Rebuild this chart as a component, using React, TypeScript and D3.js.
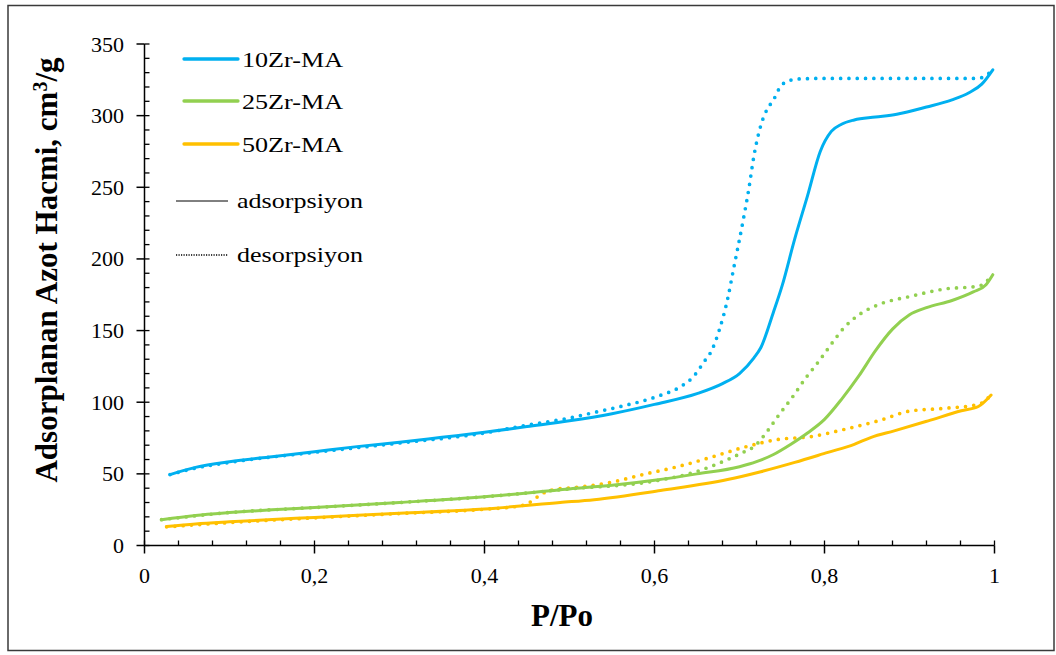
import React from "react";
import * as d3 from "d3";

// ---- data ----
const p10Ads = [0.03,0.06,0.1,0.15,0.2,0.25,0.3,0.35,0.4,0.45,0.5,0.55,0.6,0.65,0.68,0.7,0.717,0.725,0.74,0.75,0.765,0.78,0.795,0.808,0.82,0.835,0.86,0.885,0.92,0.95,0.97,0.985,0.998];
const v10Ads = [49.5,54.5,58.5,62,65.5,69,72,75.5,79,83,87,92,98.5,106,113,120,131,138,163,181,214,244,275,289,294,297,299,301,306,311,316,322,332];

const p10Des = [0.03,0.06,0.1,0.2,0.3,0.4,0.45,0.5,0.53,0.56,0.603,0.631,0.646,0.658,0.668,0.676,0.686,0.693,0.704,0.711,0.717,0.725,0.733,0.739,0.749,0.757,0.766,0.8,0.85,0.9,0.95,0.98,0.99,0.998];
const v10Des = [49.5,54,58,65,71.5,78.5,84,89,93,97,104,111,118,128,137,150,172,193,226,249,272,293,305,310,321,324,325.5,326,326,326,326,326,328,332];

const p25Ads = [0.02,0.06,0.1,0.15,0.2,0.3,0.4,0.5,0.55,0.6,0.65,0.7,0.72,0.74,0.76,0.78,0.8,0.82,0.84,0.86,0.88,0.9,0.92,0.95,0.975,0.99,0.998];
const v25Ads = [18,21,23,25,26.5,30,34,39.5,42,45.5,50,55,58.5,63.5,70.5,78.5,88,102,118,136,151,161,166,171,177,182,189];

const p25Des = [0.02,0.1,0.2,0.3,0.4,0.5,0.6,0.646,0.686,0.704,0.717,0.733,0.745,0.764,0.778,0.79,0.8,0.811,0.823,0.843,0.863,0.902,0.941,0.981,0.998];
const v25Des = [18,23,26.5,30,34,39.5,45,51,60,65,69,80,90,105,117,126,134,143,152,162,168,174,179,181,189];

const p50Ads = [0.026,0.06,0.1,0.2,0.3,0.4,0.489,0.529,0.607,0.686,0.725,0.765,0.804,0.835,0.855,0.882,0.922,0.961,0.981,0.996];
const v50Ads = [13.3,15,16.5,19.6,22.5,25.5,30,32,38.4,46,51.5,58,65,70.6,75.5,80,87,94,97,105];

const p50Des = [0.026,0.1,0.2,0.3,0.4,0.44,0.45,0.458,0.466,0.475,0.485,0.505,0.548,0.587,0.627,0.666,0.705,0.745,0.784,0.823,0.863,0.902,0.941,0.981,0.996];
const v50Des = [13,16,19.3,22.3,25.3,27.5,29,32,35.6,38,39.3,40.4,44,49.6,55,61.5,68.5,74,76,81,87,94,95.7,98.5,105];

const seriesNames = ["10Zr-MA", "25Zr-MA", "50Zr-MA"];
const seriesColors = ["#00B0F0", "#92D050", "#FFC000"];
const xTickLabels = ["0", "0,2", "0,4", "0,6", "0,8", "1"];
const xTickValues = [0, 0.2, 0.4, 0.6, 0.8, 1];
const yTickValues = [0, 50, 100, 150, 200, 250, 300, 350];
const styleNames = ["adsorpsiyon", "desorpsiyon"];

const FONT = "'Liberation Serif', 'Times New Roman', serif";

export default function App() {
  const W = 1056, H = 655;
  const x = d3.scaleLinear().domain([0, 1]).range([144.5, 994.5]);
  const y = d3.scaleLinear().domain([0, 350]).range([545.5, 44]);
  const line = d3.line<[number, number]>().x(d => x(d[0])).y(d => y(d[1])).curve(d3.curveMonotoneX);
  const zip = (a: number[], b: number[]) => a.map((v, i) => [v, b[i]] as [number, number]);

  const ads = [zip(p10Ads, v10Ads), zip(p25Ads, v25Ads), zip(p50Ads, v50Ads)];
  const des = [zip(p10Des, v10Des), zip(p25Des, v25Des), zip(p50Des, v50Des)];

  const xMinor = d3.range(0, 26).map(i => i * 0.04);
  const yMinor = d3.range(0, 36).map(i => i * 10);

  const legendY = [59, 101, 144];

  return (
    <svg width={W} height={H} style={{ position: "absolute", left: 0, top: 0 }}>
      <rect x={0} y={0} width={W} height={H} fill="#fff" />
      <rect x={8} y={5.5} width={1046} height={645} fill="none" stroke="#3a3a3a" strokeWidth={1.5} />

      {/* series */}
      {[2, 1, 0].map(i => (
        <g key={"s" + i}>
          <path d={line(des[i]) || ""} fill="none" stroke={seriesColors[i]} strokeWidth={3.7}
            strokeDasharray="0 8.3" strokeLinecap="round" />
          <path d={line(ads[i]) || ""} fill="none" stroke={seriesColors[i]} strokeWidth={3}
            strokeLinejoin="round" strokeLinecap="round" />
        </g>
      ))}

      {/* axes */}
      <line x1={x(0)} x2={x(0)} y1={y(350)} y2={y(0)} stroke="#000" strokeWidth={1.5} />
      <line x1={x(0)} x2={x(1)} y1={y(0)} y2={y(0)} stroke="#000" strokeWidth={1.5} />
      {xMinor.map((v, i) => (
        <line key={"xm" + i} x1={x(v)} x2={x(v)} y1={y(0)} y2={y(0) - 5} stroke="#000" strokeWidth={1.3} />
      ))}
      {xTickValues.map((v, i) => (
        <g key={"xt" + i}>
          <line x1={x(v)} x2={x(v)} y1={y(0)} y2={y(0) + 8} stroke="#000" strokeWidth={1.5} />
          <text x={x(v)} y={583} textAnchor="middle" fontFamily={FONT} fontSize={22} fill="#000">{xTickLabels[i]}</text>
        </g>
      ))}
      {yMinor.map((v, i) => (
        <line key={"ym" + i} x1={x(0)} x2={x(0) + 5} y1={y(v)} y2={y(v)} stroke="#000" strokeWidth={1.3} />
      ))}
      {yTickValues.map((v, i) => (
        <g key={"yt" + i}>
          <line x1={x(0) - 8} x2={x(0)} y1={y(v)} y2={y(v)} stroke="#000" strokeWidth={1.5} />
          <text x={124} y={y(v) + 7.5} textAnchor="end" fontFamily={FONT} fontSize={22} fill="#000">{v}</text>
        </g>
      ))}

      {/* axis titles */}
      <text x={562} y={626} textAnchor="middle" fontFamily={FONT} fontSize={31} fontWeight="bold" fill="#000">P/Po</text>
      <text transform="translate(57,270) rotate(-90)" textAnchor="middle" fontFamily={FONT} fontSize={31} fontWeight="bold" fill="#000">
        Adsorplanan Azot Hacmi, cm<tspan dy={-10} fontSize={20}>3</tspan><tspan dy={10}>/g</tspan>
      </text>

      {/* legend */}
      {seriesNames.map((n, i) => (
        <g key={"l" + i}>
          <line x1={184} x2={238} y1={legendY[i]} y2={legendY[i]} stroke={seriesColors[i]} strokeWidth={3.3} strokeLinecap="round" />
          <text x={242} y={legendY[i] + 8} fontFamily={FONT} fontSize={22} fill="#000" textLength={101} lengthAdjust="spacingAndGlyphs">{n}</text>
        </g>
      ))}
      <line x1={176} x2={228} y1={201} y2={201} stroke="#000" strokeWidth={1} />
      <text x={237} y={208} fontFamily={FONT} fontSize={22} fill="#000" textLength={126} lengthAdjust="spacingAndGlyphs">{styleNames[0]}</text>
      <line x1={176} x2={228} y1={255} y2={255} stroke="#000" strokeWidth={1.6} strokeDasharray="1.2 1.3" />
      <text x={237} y={262} fontFamily={FONT} fontSize={22} fill="#000" textLength={126} lengthAdjust="spacingAndGlyphs">{styleNames[1]}</text>
    </svg>
  );
}
